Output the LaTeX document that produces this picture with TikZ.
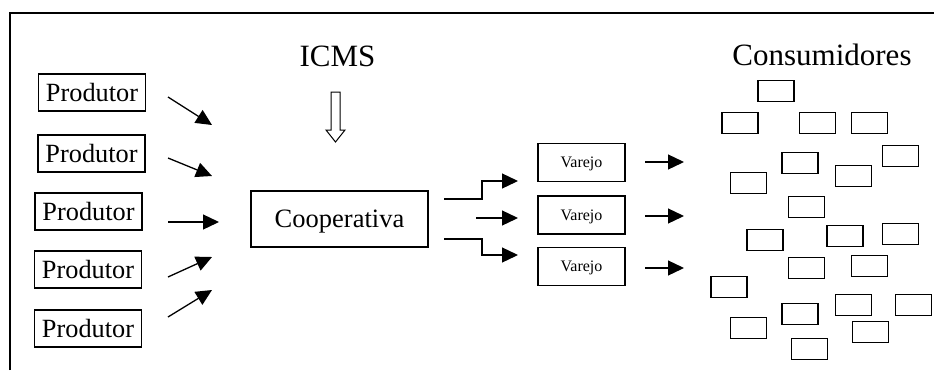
\documentclass[tikz,border=0pt]{standalone}
\usepackage{fontspec}
\setmainfont{Liberation Serif}
\usetikzlibrary{arrows.meta}

\begin{document}
\begin{tikzpicture}[x=1pt,y=-1pt,
  box/.style={draw,line width=1.1pt,inner sep=0pt,text depth=0pt},
  prodbox/.style={box,minimum width=107pt,minimum height=37pt,text height=17.5pt,font=\fontsize{26.3}{28}\selectfont},
  coopbox/.style={box,minimum width=177pt,minimum height=56pt,text height=17.5pt,font=\fontsize{26.5}{28}\selectfont},
  varbox/.style={box,minimum width=87pt,minimum height=38pt,text height=10.5pt,font=\fontsize{16}{18}\selectfont},
  consbox/.style={draw,line width=1.1pt,minimum width=36pt,minimum height=21pt,inner sep=0pt},
  title/.style={anchor=base,inner sep=0pt,font=\fontsize{31}{33}\selectfont},
  arr/.style={line width=1.3pt,-{Triangle[length=16pt,width=15pt]}},
]
\useasboundingbox (0,0) rectangle (934,370);

% open frame: top and left edges
\draw[line width=1.4pt] (10,370) -- (10,13) -- (934,13);

% headings
\node[title] (icms) at (337.5,66) {ICMS};
\node[title] (cons) at (822,65) {Consumidores};

% producers
\node[prodbox] (p1) at (92,92.5)  {Produtor};
\node[prodbox] (p2) at (91.5,153.5) {Produtor};
\node[prodbox] (p3) at (88.5,211.5) {Produtor};
\node[prodbox] (p4) at (88,269.5) {Produtor};
\node[prodbox] (p5) at (88,328.5) {Produtor};

% cooperative
\node[coopbox] (coop) at (339.5,219) {Cooperativa};

% retailers
\node[varbox] (v1) at (581.5,162.5) {Varejo};
\node[varbox] (v2) at (581.5,215)   {Varejo};
\node[varbox] (v3) at (581.5,266.5) {Varejo};

% hollow tax arrow under ICMS
\draw[line width=1pt,fill=white]
  (331,92) -- (340,92) -- (340,130) -- (345,130) -- (335.5,142)
  -- (326,130) -- (331,130) -- cycle;

% producer arrows towards the cooperative
\coordinate (a1s) at (168,97);  \coordinate (a1e) at (212,125);
\coordinate (a2s) at (168,158); \coordinate (a2e) at (212,176);
\coordinate (a3s) at (168,222); \coordinate (a3e) at (219,222);
\coordinate (a4s) at (168,277); \coordinate (a4e) at (212,257);
\coordinate (a5s) at (168,317); \coordinate (a5e) at (212,290);
\foreach \i in {1,...,5} \draw[arr] (a\i s) -- (a\i e);

% cooperative to retailers
\coordinate (b1s) at (444,199); \coordinate (b1e) at (518,181);
\coordinate (b2s) at (476,218); \coordinate (b2e) at (518,218);
\coordinate (b3s) at (444,239); \coordinate (b3e) at (518,255);
\draw[arr] (b1s) -| (482,181) -- (b1e);
\draw[arr] (b2s) -- (b2e);
\draw[arr] (b3s) -| (482,255) -- (b3e);

% retailers to consumers
\coordinate (c1s) at (645,162); \coordinate (c1e) at (684,162);
\coordinate (c2s) at (645,216); \coordinate (c2e) at (684,216);
\coordinate (c3s) at (645,268); \coordinate (c3e) at (684,268);
\foreach \i in {1,2,3} \draw[arr] (c\i s) -- (c\i e);

% scattered consumers
\foreach \x/\y [count=\k] in {
  776/91.3, 740/123.3, 817.3/123.3, 869.3/123.3, 900.7/155.7,
  800/163, 853.3/176.3, 748.3/183, 806.7/207, 765/240,
  845/236, 900.7/234, 806.7/267.7, 869.3/266, 729/287.3,
  853.3/305.3, 913.3/305.3, 800/314.3, 748.3/327.7, 870.7/332,
  809.3/349.3}
  \node[consbox] (k\k) at (\x,\y) {};
\end{tikzpicture}
\end{document}
